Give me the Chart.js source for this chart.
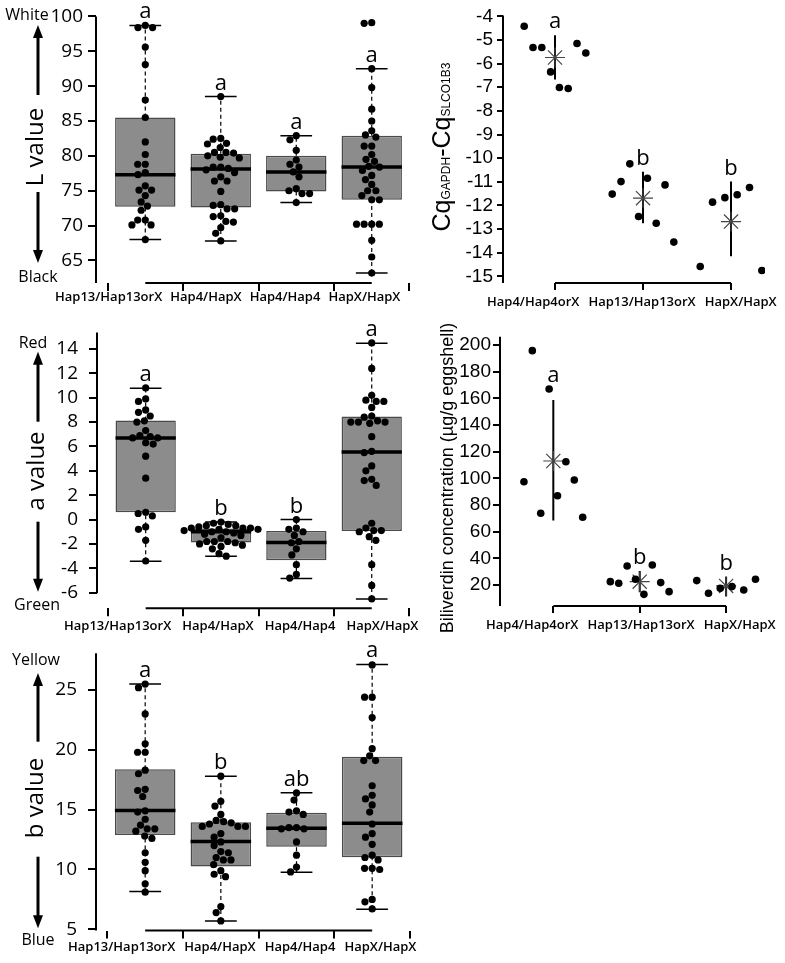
<!DOCTYPE html>
<html>
<head>
<meta charset="utf-8">
<script src="https://cdn.jsdelivr.net/npm/chart.js@4.4.1/dist/chart.umd.min.js"></script>
<style>
  body { margin: 0; background: #fff; width: 785px; height: 963px; position: relative; overflow: hidden; }
  canvas { position: absolute; }
</style>
</head>
<body>
<canvas id="cL" width="440" height="310" style="left:0;top:0"></canvas>
<canvas id="cCq" width="385" height="315" style="left:400px;top:0"></canvas>
<canvas id="cA" width="420" height="330" style="left:0;top:310px"></canvas>
<canvas id="cBili" width="365" height="330" style="left:420px;top:310px"></canvas>
<canvas id="cB" width="440" height="343" style="left:0;top:620px"></canvas>
<script>
// groups
const boxGroups = ['Hap13/Hap13orX', 'Hap4/HapX', 'Hap4/Hap4', 'HapX/HapX'];
const dotGroups = ['Hap4/Hap4orX', 'Hap13/Hap13orX', 'HapX/HapX'];

// L value
const lTicks = [65, 70, 75, 80, 85, 90, 95, 100];
const lLow = [68.0, 67.8, 73.3, 63.2];
const lQ1 = [72.7, 72.6, 74.9, 73.7];
const lMed = [77.3, 78.1, 77.7, 78.4];
const lQ3 = [85.5, 80.3, 80.0, 82.9];
const lHigh = [98.7, 88.5, 82.9, 92.5];
const lLetters = ['a', 'a', 'a', 'a'];
const lPts = [
  [98.7, 98.4, 98.4, 95.6, 93.1, 88.0, 85.5, 82.0, 80.2, 78.8, 78.8, 77.6, 77.3, 75.7, 75.1, 75.1, 74.3, 73.4, 72.8, 72.2, 70.8, 70.8, 70.1, 70.1, 68.0],
  [88.5, 82.5, 82.4, 81.8, 81.7, 81.2, 80.5, 80.5, 80.4, 80.0, 79.8, 79.7, 78.4, 78.4, 78.2, 78.0, 77.6, 77.0, 76.4, 76.4, 74.9, 73.0, 72.9, 72.4, 72.4, 71.4, 71.3, 70.6, 70.5, 69.7, 68.9, 67.8],
  [82.9, 82.3, 80.8, 79.4, 78.8, 78.4, 77.7, 77.0, 75.3, 75.0, 74.6, 74.6, 73.3],
  [99.1, 99.0, 92.5, 89.8, 86.7, 85.0, 83.6, 83.0, 82.7, 81.4, 81.4, 80.2, 79.5, 79.2, 78.5, 78.4, 77.9, 77.2, 76.6, 75.9, 75.0, 75.0, 74.3, 73.7, 73.7, 70.2, 70.2, 70.2, 70.2, 67.9, 65.5, 63.2]
];

// a value
const aTicks = [-6, -4, -2, 0, 2, 4, 6, 8, 10, 12, 14];
const aLow = [-3.41, -3.0, -4.83, -6.52];
const aQ1 = [0.6, -1.88, -3.33, -0.93];
const aMed = [6.69, -1.0, -1.88, 5.54];
const aQ3 = [8.13, -0.73, -0.93, 8.46];
const aHigh = [10.78, -0.19, 0.0, 14.46];
const aLetters = ['a', 'b', 'b', 'a'];
const aPts = [
  [10.8, 9.9, 9.7, 9.0, 8.8, 8.5, 8.1, 8.0, 7.3, 6.9, 6.8, 6.7, 6.7, 6.3, 6.2, 5.2, 3.4, 0.6, 0.5, 0.3, -0.6, -0.8, -1.7, -3.4],
  [-0.2, -0.3, -0.4, -0.5, -0.5, -0.6, -0.7, -0.7, -0.7, -0.8, -0.8, -0.9, -1.0, -1.0, -1.1, -1.2, -1.3, -1.5, -1.8, -1.8, -1.8, -1.9, -2.0, -2.1, -2.2, -2.4, -2.8, -3.0],
  [0.0, -0.7, -0.8, -1.0, -1.3, -1.8, -1.9, -2.4, -2.9, -3.7, -4.5, -4.8],
  [14.5, 12.4, 10.2, 9.8, 9.7, 9.7, 9.2, 8.5, 8.4, 8.1, 8.0, 8.0, 8.0, 7.9, 6.8, 5.6, 5.5, 4.4, 4.0, 3.3, 3.2, 2.8, -0.3, -0.7, -0.9, -0.9, -1.0, -1.4, -1.7, -3.7, -5.4, -6.5]
];

// b value
const bTicks = [5, 10, 15, 20, 25];
const bLow = [8.15, 5.7, 9.76, 6.67];
const bQ1 = [12.88, 10.24, 11.91, 11.02];
const bMed = [14.92, 12.33, 13.44, 13.86];
const bQ3 = [18.37, 13.94, 14.75, 19.43];
const bHigh = [25.5, 17.8, 16.42, 27.14];
const bLetters = ['a', 'b', 'ab', 'a'];
const bPts = [
  [25.5, 25.2, 23.0, 20.5, 19.8, 19.8, 18.3, 18.0, 16.7, 16.6, 16.1, 14.9, 14.8, 14.2, 13.7, 13.4, 13.4, 13.2, 12.8, 12.6, 11.4, 10.6, 9.9, 8.8, 8.1],
  [17.8, 15.7, 15.3, 14.6, 14.1, 14.0, 13.9, 13.8, 13.6, 13.6, 13.6, 13.0, 12.7, 12.3, 12.0, 11.5, 11.4, 11.0, 10.8, 10.8, 10.4, 9.9, 9.6, 9.4, 6.9, 6.4, 5.7],
  [16.4, 15.8, 14.9, 14.8, 14.6, 13.5, 13.5, 13.4, 13.4, 12.3, 11.2, 10.2, 9.8],
  [27.1, 24.4, 24.4, 22.7, 20.1, 19.5, 19.1, 19.1, 17.0, 16.2, 15.9, 15.4, 14.8, 13.8, 13.0, 12.7, 12.1, 11.2, 11.0, 10.8, 10.1, 10.1, 10.0, 7.5, 7.3, 6.7]
];

// CqGAPDH - CqSLCO1B3 (points listed left to right)
const cqTicks = [-15, -14, -13, -12, -11, -10, -9, -8, -7, -6, -5, -4];
const cqPts = [
  [-4.42, -5.32, -5.32, -6.35, -7.01, -7.05, -5.15, -5.55],
  [-11.52, -10.99, -10.24, -12.47, -10.85, -12.75, -11.13, -13.55],
  [-14.58, -11.86, -11.67, -11.55, -11.24, -14.75]
];
const cqMean = [-5.74, -11.69, -12.68];
const cqErrLow = [-6.67, -12.75, -14.15];
const cqErrHigh = [-4.8, -10.57, -10.99];
const cqLetters = ['a', 'b', 'b'];

// biliverdin (points listed left to right)
const biliTicks = [20, 40, 60, 80, 100, 120, 140, 160, 180, 200];
const biliPts = [
  [97.5, 195.8, 73.8, 167.0, 87.0, 112.5, 98.8, 70.8],
  [22.5, 21.3, 34.3, 24.3, 13.0, 35.0, 21.8, 15.0],
  [23.3, 13.8, 17.5, 18.8, 16.3, 24.3]
];
const biliMean = [113.0, 22.5, 19.3];
const biliErrLow = [68.3, 14.5, 11.3];
const biliErrHigh = [158.8, 30.5, 26.0];
const biliLetters = ['a', 'b', 'b'];

// beeswarm offsets (in x units) so dots don't overlap
function swarm(vals, pxY, pxX, d) {
  const idx = vals.map((v, i) => i).sort((a, b) => vals[b] - vals[a]);
  const placed = [];
  const offs = [];
  idx.forEach(i => {
    const y = vals[i] * pxY;
    const cands = [0];
    placed.forEach(p => {
      const dy = Math.abs(p.y - y);
      if (dy < d) {
        const dx = Math.sqrt(d * d - dy * dy);
        cands.push(p.x + dx, p.x - dx);
      }
    });
    cands.sort((a, b) => Math.abs(a) - Math.abs(b) || a - b);
    let best = 0;
    for (const c of cands) {
      if (placed.every(p => (p.x - c) ** 2 + (p.y - y) ** 2 >= d * d - 0.5)) { best = c; break; }
    }
    placed.push({ x: best, y: y });
    offs[i] = best / pxX;
  });
  return offs;
}

// line pieces separated by gaps
function segs(list) {
  const out = [];
  list.forEach(s => out.push({ x: s[0], y: s[1] }, { x: s[2], y: s[3] }, { x: s[2], y: null }));
  return out;
}

function drawArrow(ctx, x, y0, y1) {
  const dir = y1 < y0 ? -1 : 1;
  ctx.lineWidth = 3;
  ctx.beginPath();
  ctx.moveTo(x, y0);
  ctx.lineTo(x, y1 - dir * 10);
  ctx.stroke();
  ctx.beginPath();
  ctx.moveTo(x, y1);
  ctx.lineTo(x - 5, y1 - dir * 13);
  ctx.lineTo(x + 5, y1 - dir * 13);
  ctx.closePath();
  ctx.fill();
}

const decor = {
  id: 'decor',
  afterDraw(chart, args, o) {
    const { ctx, chartArea: a } = chart;
    const x = chart.scales.x, y = chart.scales.y;
    ctx.save();
    ctx.strokeStyle = '#000';
    ctx.fillStyle = '#000';
    ctx.lineWidth = 2;
    ctx.beginPath();
    ctx.moveTo(a.left, y.getPixelForValue(o.yLine[0]));
    ctx.lineTo(a.left, y.getPixelForValue(o.yLine[1]));
    ctx.moveTo(x.getPixelForValue(0), a.bottom);
    ctx.lineTo(x.getPixelForValue(o.groups.length - 1), a.bottom);
    ctx.stroke();

    ctx.font = '22px "Open Sans"';
    ctx.textAlign = 'center';
    ctx.textBaseline = 'alphabetic';
    o.letters.forEach((t, i) => ctx.fillText(t, x.getPixelForValue(i), y.getPixelForValue(o.letterTop[i]) - 7));

    // group names are set as one row of text under the bracket
    ctx.font = '600 13px "Open Sans"';
    ctx.textAlign = 'left';
    ctx.textBaseline = 'middle';
    let lx = o.xLabels.start;
    o.groups.forEach(g => {
      ctx.fillText(g, lx, o.xLabels.y);
      lx += ctx.measureText(g).width + o.xLabels.gap;
    });

    ctx.textAlign = 'center';
    if (o.side) {
      const s = o.side;
      ctx.font = '16px "Open Sans"';
      ctx.fillText(s.top[0], s.top[1], s.top[2]);
      ctx.fillText(s.bottom[0], s.bottom[1], s.bottom[2]);
      drawArrow(ctx, s.up[0], s.up[1], s.up[2]);
      drawArrow(ctx, s.down[0], s.down[1], s.down[2]);
      ctx.save();
      ctx.translate(s.label[1], s.label[2]);
      ctx.rotate(-Math.PI / 2);
      ctx.font = '24px "Open Sans"';
      ctx.fillText(s.label[0], 0, 0);
      ctx.restore();
    }
    if (o.title) {
      const t = o.title;
      ctx.save();
      ctx.translate(t.x, t.y);
      ctx.rotate(-Math.PI / 2);
      ctx.textAlign = 'left';
      ctx.textBaseline = t.baseline;
      let w = 0;
      t.parts.forEach(p => { ctx.font = p[1]; w += ctx.measureText(p[0]).width; });
      let px = -w / 2;
      t.parts.forEach(p => { ctx.font = p[1]; ctx.fillText(p[0], px, 0); px += ctx.measureText(p[0]).width; });
      ctx.restore();
    }
    ctx.restore();
  }
};

function axes(o, groups, ticks) {
  return {
    x: {
      type: 'linear', min: o.xmin, max: o.xmax, offset: false,
      afterBuildTicks: s => { s.ticks = groups.map((g, i) => ({ value: i })); },
      afterFit: s => { s.height = o.xh; },
      ticks: { display: false, autoSkip: false },
      grid: { drawOnChartArea: false, tickLength: o.xTick, color: '#000', lineWidth: 2 },
      border: { display: false }
    },
    y: {
      type: 'linear', min: o.min, max: o.max,
      afterBuildTicks: s => { s.ticks = ticks.map(v => ({ value: v })); },
      afterFit: s => { s.width = o.yw; },
      ticks: { autoSkip: false, padding: o.yPad, color: '#000', font: o.yFont, callback: v => String(v) },
      grid: { drawOnChartArea: false, tickLength: o.yTick, color: '#000', lineWidth: 2 },
      border: { display: false }
    }
  };
}

function baseOptions(o, d, tops, extra) {
  return {
    responsive: false, animation: false, events: [],
    layout: { padding: { left: 0, top: o.top, right: o.right, bottom: 0 } },
    scales: axes(o, d.groups, d.ticks),
    plugins: {
      legend: { display: false }, tooltip: { enabled: false },
      decor: Object.assign({ yLine: o.yLine, groups: d.groups, letters: d.letters, letterTop: tops, xLabels: o.xLabels }, extra)
    }
  };
}

function makeBoxChart(id, d, o) {
  const cv = document.getElementById(id);
  const pxY = (cv.height - o.top - o.xh) / (o.max - o.min);
  const pxX = (cv.width - o.yw - o.right) / (o.xmax - o.xmin);
  const pointData = [];
  d.pts.forEach((vals, g) => {
    const offs = swarm(vals, pxY, pxX, 7.6);
    vals.forEach((v, k) => pointData.push({ x: g + offs[k], y: v }));
  });
  const idx = d.groups.map((g, i) => i);
  new Chart(cv, {
    type: 'scatter',
    data: {
      datasets: [
        { type: 'scatter', data: pointData, pointRadius: 3.6, pointBackgroundColor: '#000', pointBorderWidth: 0, order: 0 },
        { type: 'line', data: segs(idx.map(i => [i - 0.4, d.med[i], i + 0.4, d.med[i]])), borderColor: '#000', borderWidth: 3.5, pointRadius: 0, order: 1 },
        { type: 'line', data: segs(idx.flatMap(i => [[i - 0.21, d.high[i], i + 0.21, d.high[i]], [i - 0.21, d.low[i], i + 0.21, d.low[i]]])), borderColor: '#000', borderWidth: 1.5, pointRadius: 0, order: 2 },
        { type: 'line', data: segs(idx.flatMap(i => [[i, d.q3[i], i, d.high[i]], [i, d.low[i], i, d.q1[i]]])), borderColor: '#000', borderWidth: 1.2, borderDash: [4, 3], pointRadius: 0, order: 3 },
        { type: 'bar', data: idx.map(i => ({ x: i, y: [d.q1[i], d.q3[i]] })), backgroundColor: '#8c8c8c', borderColor: '#4a4a4a', borderWidth: 1.5, borderSkipped: false, barPercentage: 0.8, categoryPercentage: 1, order: 4 }
      ]
    },
    options: baseOptions(o, d, d.high, { side: o.side }),
    plugins: [decor]
  });
}

function makeDotChart(id, d, o) {
  const cv = document.getElementById(id);
  const pointData = [];
  const tops = [];
  d.pts.forEach((vals, g) => {
    const n = vals.length;
    let top = d.errHigh[g];
    vals.forEach((v, k) => {
      const off = -o.spread + 2 * o.spread * k / (n - 1);
      if (Math.abs(off) < 0.1) top = Math.max(top, v);
      pointData.push({ x: g + off, y: v });
    });
    tops.push(top);
  });
  const idx = d.groups.map((g, i) => i);
  new Chart(cv, {
    type: 'scatter',
    data: {
      datasets: [
        { type: 'scatter', data: pointData, pointRadius: 3.8, pointBackgroundColor: '#000', pointBorderWidth: 0, order: 0 },
        { type: 'scatter', data: idx.map(i => ({ x: i, y: d.mean[i] })), pointStyle: 'star', pointRadius: 10, pointBorderColor: '#444', pointBorderWidth: 1.2, pointBackgroundColor: 'rgba(0,0,0,0)', order: 1 },
        { type: 'line', data: segs(idx.map(i => [i, d.errLow[i], i, d.errHigh[i]])), borderColor: '#000', borderWidth: 2, pointRadius: 0, order: 2 }
      ]
    },
    options: baseOptions(o, d, tops, { title: o.title }),
    plugins: [decor]
  });
}

const boxFont = { family: 'Open Sans', size: 19 };
const dotFont = { family: 'Liberation Sans', size: 19 };

makeBoxChart('cL',
  { groups: boxGroups, ticks: lTicks, pts: lPts, low: lLow, q1: lQ1, med: lMed, q3: lQ3, high: lHigh, letters: lLetters },
  { yw: 96, xh: 27, top: 12, right: 30, min: 61.77, max: 100, xmin: -0.653, xmax: 3.507, yLine: [100, 61.77],
    yFont: boxFont, yTick: 8, yPad: 5, xTick: 8, xLabels: { start: 55, y: 297, gap: 8 },
    side: { top: ['White', 27, 15], bottom: ['Black', 38, 277], label: ['L value', 36, 147], up: [38, 95, 25], down: [38, 192, 263] } });

makeBoxChart('cA',
  { groups: boxGroups, ticks: aTicks, pts: aPts, low: aLow, q1: aQ1, med: aMed, q3: aQ3, high: aHigh, letters: aLetters },
  { yw: 97, xh: 31.7, top: 21.7, right: 10, min: -7.28, max: 15.36, xmin: -0.646, xmax: 3.508, yLine: [15.36, -6.05],
    yFont: boxFont, yTick: 8, yPad: 11, xTick: 8, xLabels: { start: 64, y: 316, gap: 11 },
    side: { top: ['Red', 33, 33], bottom: ['Green', 37, 295], label: ['a value', 37, 161], up: [38, 111.7, 41.7], down: [38, 211.7, 281.7] } });

makeBoxChart('cB',
  { groups: boxGroups, ticks: bTicks, pts: bPts, low: bLow, q1: bQ1, med: bMed, q3: bQ3, high: bHigh, letters: bLetters },
  { yw: 96, xh: 32.5, top: 33.3, right: 30, min: 4.9, max: 28.07, xmin: -0.65, xmax: 3.5, yLine: [28.07, 4.9],
    yFont: boxFont, yTick: 8, yPad: 11, xTick: 8, xLabels: { start: 68, y: 327, gap: 9 },
    side: { top: ['Yellow', 36, 40], bottom: ['Blue', 38, 320], label: ['b value', 36, 178], up: [38, 121.7, 53], down: [38, 236.7, 308.3] } });

makeDotChart('cCq',
  { groups: dotGroups, ticks: cqTicks, pts: cqPts, mean: cqMean, errLow: cqErrLow, errHigh: cqErrHigh, letters: cqLetters },
  { yw: 103, xh: 32, top: 15, right: 20, min: -15.28, max: -3.96, xmin: -0.591, xmax: 2.386, yLine: [-3.96, -15.28],
    yFont: dotFont, yTick: 6, yPad: 4, xTick: 7, xLabels: { start: 87, y: 302, gap: 9 }, spread: 0.35,
    title: { x: 50, y: 147, baseline: 'alphabetic', parts: [['Cq', '25px "Liberation Sans"'], ['GAPDH', '12px "Liberation Sans"'], ['-Cq', '25px "Liberation Sans"'], ['SLCO1B3', '12px "Liberation Sans"']] } });

makeDotChart('cBili',
  { groups: dotGroups, ticks: biliTicks, pts: biliPts, mean: biliMean, errLow: biliErrLow, errHigh: biliErrHigh, letters: biliLetters },
  { yw: 80, xh: 34, top: 26.7, right: 20, min: 4.25, max: 206.25, xmin: -0.617, xmax: 2.45, yLine: [206.25, 4.25],
    yFont: dotFont, yTick: 7, yPad: 2, xTick: 7, xLabels: { start: 66, y: 315, gap: 9 }, spread: 0.34,
    title: { x: 28, y: 168, baseline: 'middle', parts: [['Biliverdin concentration (µg/g eggshell)', '18px "Liberation Sans"']] } });
</script>
</body>
</html>
